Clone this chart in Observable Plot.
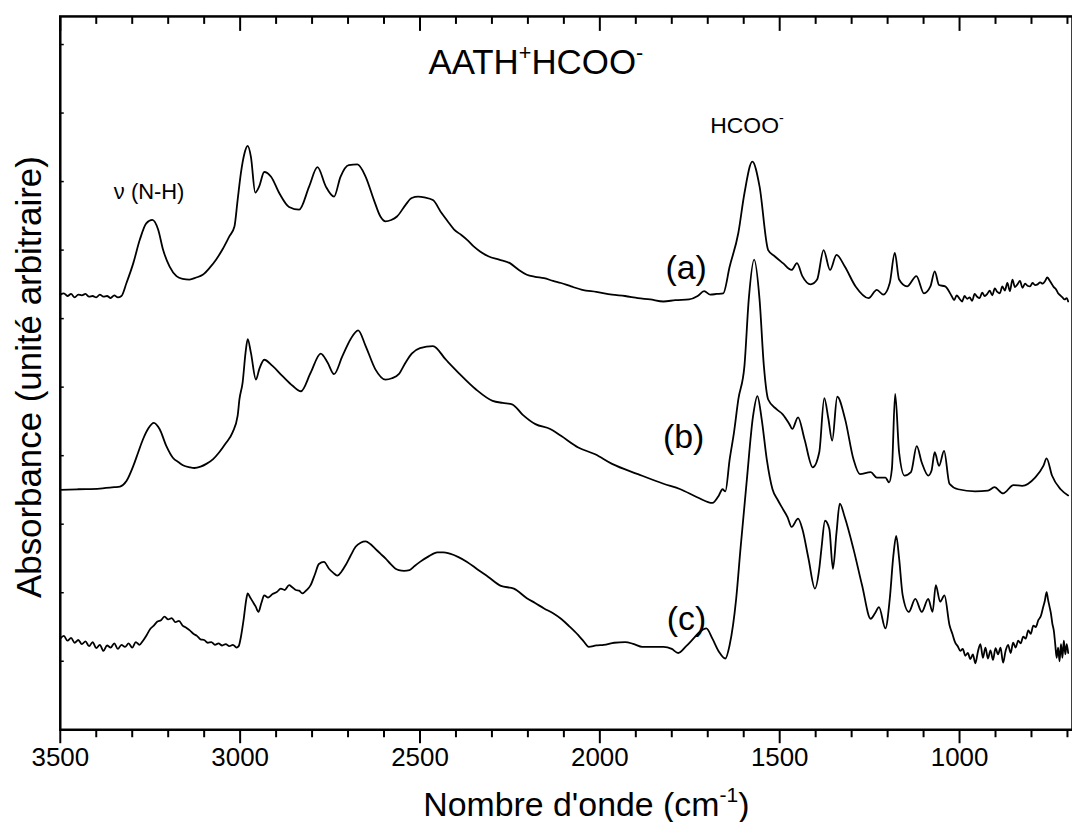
<!DOCTYPE html>
<html><head><meta charset="utf-8">
<script src="https://cdn.jsdelivr.net/npm/d3@7"></script>
<script src="https://cdn.jsdelivr.net/npm/@observablehq/plot@0.6"></script>
<style>html,body{margin:0;padding:0;background:#fff;overflow:hidden}svg{display:block}</style>
</head><body><div id="chart"></div>
<script>
// ---- spectrum (a) ----
const wnA = [3500,3490,3480,3470,3460,3450,3440,3430,3420,3410,3400,3390,3380,3370,3360,3350,3340,3330,3316,3297,3279,3261,3244,3228,3214,3196,3177,3160,3141,3122,3104,3085,3067,3048,3030,3016,3007,2998,2988,2979,2970,2958,2947,2933,2914,2891,2864,2836,2808,2785,2762,2739,2721,2698,2674,2651,2628,2610,2596,2580,2564,2540,2523,2505,2488,2464,2440,2420,2405,2385,2369,2350,2333,2310,2280,2250,2225,2203,2180,2155,2130,2108,2080,2049,2010,1966,1930,1894,1860,1823,1790,1752,1728,1710,1693,1675,1657,1639,1615,1598,1576,1556,1532,1514,1491,1467,1452,1437,1414,1396,1378,1360,1342,1319,1289,1253,1230,1212,1194,1180,1168,1146,1120,1099,1081,1069,1057,1040,1022,1015,1008,1000,993,986,979,972,965,958,951,944,937,930,923,916,909,902,895,888,881,874,867,860,853,846,839,832,825,818,811,804,797,790,783,776,769,762,756,750,744,738,732,726,720,714,708,702,698];
const absA = [6.35,6.37,6.33,6.36,6.31,6.35,6.34,6.36,6.32,6.33,6.31,6.35,6.32,6.33,6.30,6.34,6.31,6.33,6.52,6.81,7.15,7.39,7.44,7.30,7.00,6.76,6.62,6.58,6.57,6.60,6.64,6.74,6.86,7.02,7.20,7.34,7.73,8.12,8.41,8.52,8.36,7.84,7.93,8.14,8.07,7.83,7.63,7.59,7.93,8.21,7.93,7.78,8.07,8.24,8.25,8.07,7.73,7.49,7.42,7.44,7.49,7.66,7.76,7.78,7.77,7.73,7.54,7.40,7.30,7.22,7.15,7.05,6.98,6.91,6.86,6.81,6.71,6.64,6.61,6.59,6.55,6.52,6.47,6.42,6.39,6.35,6.33,6.30,6.28,6.25,6.27,6.28,6.33,6.40,6.35,6.36,6.37,6.76,7.25,7.83,8.29,7.93,7.00,6.91,6.81,6.71,6.81,6.62,6.50,6.57,7.00,6.71,6.93,6.76,6.47,6.30,6.42,6.35,6.52,6.96,6.57,6.47,6.62,6.37,6.47,6.69,6.49,6.47,6.33,6.27,6.34,6.29,6.25,6.33,6.29,6.31,6.26,6.36,6.32,6.30,6.38,6.33,6.36,6.41,6.34,6.44,6.39,6.37,6.47,6.41,6.52,6.40,6.57,6.46,6.50,6.55,6.45,6.51,6.48,6.47,6.52,6.49,6.50,6.53,6.51,6.55,6.60,6.56,6.51,6.46,6.43,6.37,6.34,6.31,6.28,6.30,6.25,6.27,6.24];

// ---- spectrum (b) ----
const wnB = [3500,3450,3390,3350,3334,3316,3297,3284,3270,3255,3240,3224,3205,3187,3170,3159,3140,3127,3110,3094,3075,3058,3040,3021,3007,3002,2993,2985,2979,2970,2956,2947,2933,2910,2882,2854,2831,2804,2776,2757,2739,2716,2693,2672,2651,2624,2596,2578,2559,2540,2523,2500,2464,2428,2393,2345,2298,2270,2244,2215,2179,2138,2108,2060,2013,1966,1894,1823,1776,1728,1687,1669,1659,1651,1639,1627,1615,1598,1586,1571,1556,1544,1532,1509,1491,1473,1465,1449,1431,1408,1390,1376,1365,1354,1340,1318,1295,1277,1247,1230,1206,1196,1188,1179,1168,1153,1135,1119,1105,1087,1078,1069,1057,1043,1028,1004,957,921,903,879,850,826,790,767,758,743,719,698];
const absB = [3.50,3.51,3.52,3.54,3.55,3.63,3.85,4.04,4.24,4.40,4.48,4.39,4.14,3.97,3.90,3.86,3.83,3.82,3.84,3.88,3.95,4.05,4.18,4.34,4.58,4.82,5.07,5.50,5.70,5.50,5.11,5.26,5.40,5.31,5.16,5.02,4.94,5.21,5.49,5.36,5.19,5.45,5.70,5.83,5.60,5.26,5.11,5.13,5.19,5.36,5.49,5.57,5.60,5.40,5.21,4.97,4.80,4.77,4.75,4.60,4.46,4.39,4.29,4.12,4.02,3.88,3.73,3.59,3.51,3.39,3.31,3.42,3.51,3.48,3.95,4.34,4.82,5.31,6.28,6.86,6.28,5.31,4.82,4.68,4.60,4.46,4.39,4.56,4.24,3.83,4.05,4.84,4.55,4.22,4.86,4.53,3.95,3.73,3.76,3.68,3.68,3.61,3.81,4.90,4.05,3.71,3.76,4.14,3.90,3.71,3.78,4.05,3.85,4.07,3.59,3.51,3.48,3.49,3.54,3.45,3.57,3.56,3.68,3.85,3.96,3.71,3.51,3.42];

// ---- spectrum (c) ----
const wnC = [3500,3490,3480,3470,3460,3450,3440,3430,3420,3410,3400,3390,3380,3370,3360,3350,3340,3330,3320,3310,3300,3290,3280,3270,3260,3250,3240,3230,3220,3210,3200,3190,3180,3170,3160,3150,3140,3130,3120,3110,3100,3090,3080,3070,3060,3050,3040,3030,3020,3010,3004,2998,2990,2983,2979,2972,2965,2957,2949,2941,2933,2922,2910,2898,2887,2876,2864,2855,2845,2836,2827,2815,2804,2792,2781,2767,2753,2741,2730,2718,2707,2693,2679,2665,2651,2638,2624,2610,2596,2582,2568,2559,2544,2529,2515,2500,2476,2452,2435,2417,2393,2369,2340,2310,2275,2239,2203,2180,2155,2130,2108,2085,2060,2045,2031,2010,1989,1960,1930,1905,1882,1850,1823,1800,1782,1760,1740,1722,1704,1687,1669,1651,1639,1621,1609,1592,1574,1562,1550,1536,1520,1505,1491,1478,1467,1449,1437,1420,1402,1390,1384,1374,1362,1352,1342,1333,1319,1295,1271,1247,1235,1224,1206,1194,1184,1176,1168,1158,1141,1123,1105,1087,1075,1066,1054,1042,1028,1020,1012,1005,998,991,984,977,970,963,956,949,942,935,928,921,914,907,900,893,886,879,872,865,858,851,844,837,830,823,816,809,802,795,788,781,774,768,763,758,754,750,746,742,738,734,730,726,722,718,714,710,706,702,698];
const absC = [1.33,1.37,1.30,1.34,1.27,1.31,1.25,1.29,1.22,1.28,1.19,1.24,1.15,1.23,1.20,1.26,1.18,1.24,1.21,1.26,1.20,1.28,1.24,1.30,1.38,1.47,1.52,1.58,1.60,1.65,1.61,1.63,1.57,1.59,1.52,1.49,1.45,1.40,1.37,1.32,1.31,1.27,1.28,1.24,1.26,1.23,1.25,1.22,1.24,1.20,1.22,1.35,1.62,1.90,1.99,1.93,1.87,1.80,1.72,1.85,1.96,1.93,1.98,2.01,2.06,2.04,2.11,2.08,2.04,2.03,1.99,2.04,2.11,2.27,2.42,2.45,2.35,2.29,2.25,2.31,2.40,2.54,2.67,2.73,2.75,2.71,2.64,2.57,2.50,2.42,2.35,2.33,2.32,2.33,2.39,2.45,2.53,2.59,2.59,2.57,2.52,2.45,2.34,2.23,2.10,2.06,1.92,1.85,1.77,1.70,1.62,1.51,1.38,1.29,1.21,1.23,1.24,1.27,1.28,1.25,1.21,1.21,1.21,1.18,1.12,1.22,1.33,1.43,1.48,1.33,1.14,1.04,1.24,1.91,2.64,3.61,4.58,4.87,4.53,3.95,3.51,3.35,3.22,3.10,2.96,3.08,2.93,2.50,2.06,2.35,2.64,3.05,2.93,2.35,2.88,3.30,3.10,2.64,2.11,1.62,1.70,1.79,1.48,1.91,2.54,2.83,2.50,1.96,1.72,1.91,1.72,1.91,1.72,2.11,1.87,1.96,1.53,1.40,1.27,1.22,1.15,1.18,1.08,1.12,1.03,1.10,0.97,1.14,1.25,1.05,1.20,1.04,1.16,1.02,1.19,1.10,1.20,0.98,1.15,1.24,1.12,1.27,1.20,1.30,1.26,1.36,1.33,1.45,1.40,1.52,1.50,1.60,1.66,1.78,1.88,2.01,1.90,1.80,1.70,1.55,1.45,1.25,1.05,1.20,1.00,1.25,1.05,1.30,1.10,1.25,1.12];

// ---- axes ----
const xMajorTicks = [3500, 3000, 2500, 2000, 1500, 1000];
const xMinorTicks = [3400, 3300, 3200, 3100, 2900, 2800, 2700, 2600, 2400, 2300, 2200, 2100, 1900, 1800, 1700, 1600, 1400, 1300, 1200, 1100, 900, 800, 700];
const yTicks = [0, 1, 2, 3, 4, 5, 6, 7, 8, 9, 10];

// ---- annotations ----
const noteText = ["AATH^{+}HCOO^{-}", "HCOO^{-}", "ν (N-H)", "(a)", "(b)", "(c)"];
const noteWn   = [2178, 1591, 3253, 1760, 1767, 1759];
const noteAbs  = [9.73, 8.82, 7.85, 6.74, 4.27, 1.61];
const noteSize = [35, 23, 22, 34, 34, 34];

const xLabel = "Nombre d'onde (cm^{-1})";
const yLabel = "Absorbance (unité arbitraire)";

const toRows = (wn, ab) => wn.map((w, i) => ({wn: w, v: ab[i]}));
const W = 1076, H = 825, mL = 60, mR = 0, mT = 16, mB = 93;
const plotW = W - mL - mR, plotH = H - mT - mB;
const font = "'Liberation Sans', Arial, Helvetica, sans-serif";
const notes = noteText.map((t, i) => ({t, wn: noteWn[i], v: noteAbs[i], s: noteSize[i]}));

const chart = Plot.plot({
  width: W, height: H,
  marginLeft: mL, marginRight: mR, marginTop: mT, marginBottom: mB,
  style: {fontFamily: font, background: "white", color: "black", overflow: "visible"},
  x: {domain: [3500, 686]},
  y: {domain: [0, 10.41], axis: null},
  marks: [
    Plot.line(toRows(wnA, absA), {x: "wn", y: "v", stroke: "black", strokeWidth: 1.8, curve: "monotone-x"}),
    Plot.line(toRows(wnB, absB), {x: "wn", y: "v", stroke: "black", strokeWidth: 1.8, curve: "monotone-x"}),
    Plot.line(toRows(wnC, absC), {x: "wn", y: "v", stroke: "black", strokeWidth: 1.8, curve: "monotone-x"}),
    Plot.ruleX(xMajorTicks, {x: d => d, insetBottom: plotH - 15, stroke: "black", strokeWidth: 2}),
    Plot.ruleX(xMinorTicks, {x: d => d, insetBottom: plotH - 8, stroke: "black", strokeWidth: 2}),
    Plot.ruleY(yTicks, {y: d => d, insetRight: plotW - 4, stroke: "black", strokeWidth: 1.5}),
    Plot.axisX(xMajorTicks, {anchor: "bottom", tickSize: 14, tickPadding: 4, strokeWidth: 2, fontSize: 26, tickFormat: d => String(d), label: null}),
    Plot.axisX(xMinorTicks, {anchor: "bottom", tickSize: 8, strokeWidth: 2, tickFormat: () => "", label: null}),
    Plot.frame({stroke: "black", strokeWidth: 2.5}),
    Plot.text(notes, {x: "wn", y: "v", text: "t", fontSize: "s", fill: "black", lineAnchor: "middle"}),
    Plot.text([xLabel], {frameAnchor: "bottom", text: d => d, dy: 76, dx: 20, fontSize: 34, fill: "black", lineAnchor: "middle", textAnchor: "middle"}),
    Plot.text([yLabel], {frameAnchor: "left", text: d => d, rotate: -90, dx: -31, dy: 4, fontSize: 35, fill: "black", lineAnchor: "middle", textAnchor: "middle"})
  ]
});

// superscript markup ^{...} -> tspans
function applySup(root) {
  root.querySelectorAll("text").forEach(el => {
    const t = el.textContent;
    if (!t.includes("^{")) return;
    const fs = parseFloat(getComputedStyle(el).fontSize) || 20;
    const parts = t.split(/(\^\{[^}]*\})/).filter(s => s);
    el.textContent = "";
    let up = false;
    for (const p of parts) {
      const ts = document.createElementNS("http://www.w3.org/2000/svg", "tspan");
      if (p.startsWith("^{")) {
        ts.textContent = p.slice(2, -1);
        ts.setAttribute("font-size", (fs * 0.62).toFixed(1));
        ts.setAttribute("dy", (-fs * 0.42).toFixed(1));
        up = true;
      } else {
        ts.textContent = p;
        if (up) { ts.setAttribute("dy", (fs * 0.42).toFixed(1)); up = false; }
      }
      el.appendChild(ts);
    }
  });
}
document.getElementById("chart").appendChild(chart);
applySup(chart);
</script>
</body></html>
